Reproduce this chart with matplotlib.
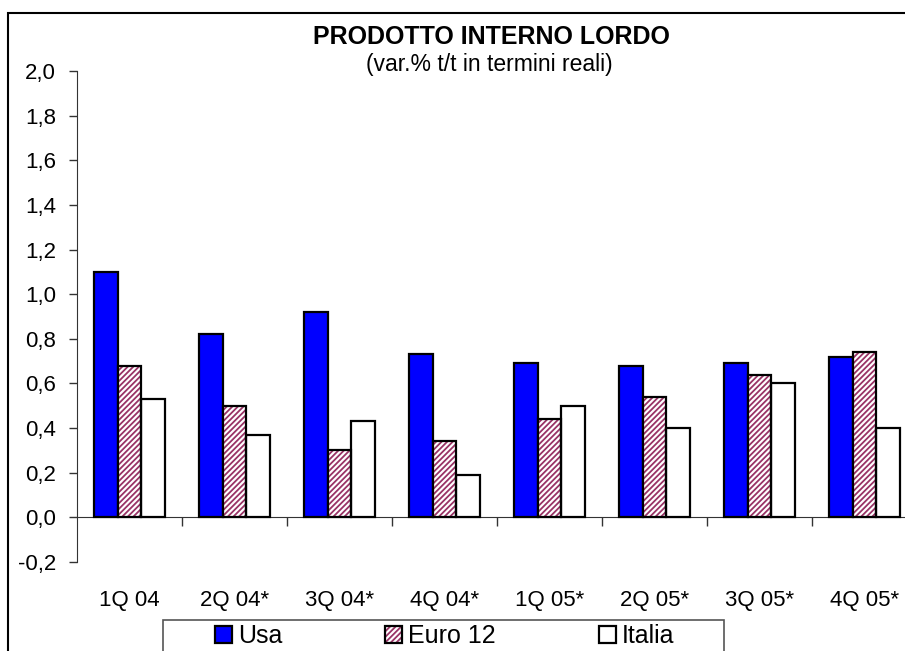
import numpy as np
import matplotlib
matplotlib.use("Agg")
import matplotlib.pyplot as plt
from matplotlib.patches import Rectangle
from matplotlib.ticker import FuncFormatter

plt.rcParams['font.family'] = ['Liberation Sans', 'DejaVu Sans']
plt.rcParams['hatch.linewidth'] = 1.3

quarters = ["1Q 04", "2Q 04*", "3Q 04*", "4Q 04*", "1Q 05*", "2Q 05*", "3Q 05*", "4Q 05*"]
usa = [1.10, 0.82, 0.92, 0.73, 0.69, 0.68, 0.69, 0.72]
euro12 = [0.68, 0.50, 0.30, 0.34, 0.44, 0.54, 0.64, 0.74]
italia = [0.53, 0.37, 0.43, 0.19, 0.50, 0.40, 0.60, 0.40]

fig = plt.figure(figsize=(9.05, 6.51), dpi=100)
ax = fig.add_axes([77/905, 89/651, 840/905, 491/651])

x = np.arange(len(quarters))
w = 0.225

b_usa = ax.bar(x - w, usa, w, color="#0000ff", edgecolor="black", linewidth=1.6, zorder=3)
b_eu_fill = ax.bar(x, euro12, w, color="white", edgecolor="#993366", hatch="//////",
                   linewidth=0, zorder=3)
b_eu_edge = ax.bar(x, euro12, w, fill=False, edgecolor="black", linewidth=1.6, zorder=4)
b_it = ax.bar(x + w, italia, w, color="white", edgecolor="black", linewidth=1.6, zorder=3)

ax.set_xlim(-0.5, 7.5)
ax.set_ylim(-0.2, 2.0)
ax.set_yticks(np.arange(-0.2, 2.01, 0.2))
ax.yaxis.set_major_formatter(FuncFormatter(lambda v, p: f"{v:.1f}".replace(".", ",")))
ax.tick_params(axis="y", direction="out", length=6, width=1, pad=9, labelsize=16, color="#333333")

for s in ["top", "right"]:
    ax.spines[s].set_visible(False)
ax.spines["bottom"].set_position(("data", 0))
ax.spines["left"].set_bounds(-0.2, 2.0)
ax.spines["left"].set_color("#333333")
ax.spines["bottom"].set_color("#333333")

ax.set_xticks(x)
ax.set_xticklabels(quarters)
ax.set_xticks(np.arange(0.5, 8.0, 1.0), minor=True)
ax.tick_params(axis="x", which="major", length=0, pad=52, labelsize=16)
ax.tick_params(axis="x", which="minor", direction="out", length=6.5, width=1, color="#333333")

fig.text(491/905, 1 - 37/651, "PRODOTTO INTERNO LORDO", ha="center", va="center",
         fontsize=18, fontweight="bold")
fig.text(489/905, 1 - 64/651, "(var.% t/t in termini reali)", ha="center", va="center",
         fontsize=16.5)

# legend frame (clipped by the bottom edge, as in the original)
fig.patches.append(Rectangle((163/905, -0.1), 561/905, (651 - 620)/651 + 0.1,
                             transform=fig.transFigure, fill=False, lw=1.2,
                             edgecolor="#555555"))
leg = fig.legend([b_usa, (b_eu_fill, b_eu_edge), b_it], ["Usa", "Euro 12", "Italia"],
                 loc="upper left", bbox_to_anchor=(215/905, 1 - 624/651),
                 ncol=3, fontsize=18, frameon=False,
                 handlelength=0.68, handleheight=0.68, handletextpad=0.25,
                 columnspacing=4.1, borderpad=0, borderaxespad=0)

fig.patches.append(Rectangle((8/905, -0.1), 1.2, (651 - 13)/651 + 0.1,
                             transform=fig.transFigure, fill=False, lw=1.5, edgecolor="black"))

fig.savefig("out.png", dpi=100)
